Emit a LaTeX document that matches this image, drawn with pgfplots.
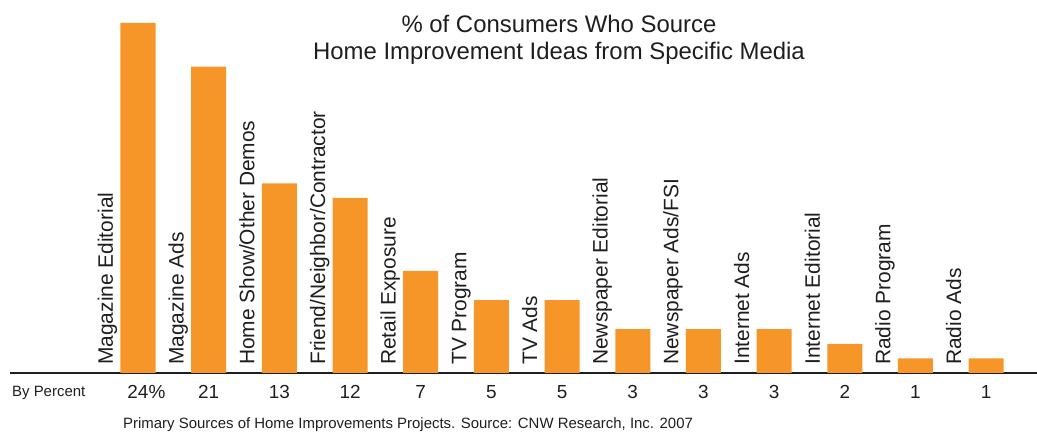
\documentclass[border=0pt]{standalone}
\usepackage{fontspec}
\setmainfont{Liberation Sans}
\usepackage{pgfplots}
\pgfplotsset{compat=1.18}
\definecolor{barorange}{RGB}{247,150,40}
\definecolor{inkgray}{RGB}{30,30,30}
\newcommand\cat[2]{\node[rotate=90, anchor=base west, inner sep=0pt,
  font=\fontsize{21}{21}\selectfont, text=inkgray] at (axis cs:{#1-0.354},0.55) {#2};}
\begin{document}
\begin{tikzpicture}[x=1bp,y=1bp]
\path[use as bounding box] (0,0) rectangle (1037,435);
\begin{axis}[
  at={(10bp,62bp)}, anchor=south west,
  scale only axis, width=1027bp, height=350bp,
  xmin=-1.811, xmax=12.72, ymin=0, ymax=24,
  ybar, bar width=35bp,
  axis y line=none,
  axis x line*=bottom,
  x axis line style={draw=inkgray, line width=1.5bp},
  xtick={0,...,12},
  xticklabels={24\rlap{\%},21,13,12,7,5,5,3,3,3,2,1,1},
  major tick length=0pt,
  /pgf/number format/assume math mode=true,
  xticklabel style={font=\fontsize{19}{19}\selectfont, text=inkgray, anchor=base, yshift=-26bp},
  clip=false,
]
\addplot[fill=barorange, draw=none] coordinates {
  (0,24) (1,21) (2,13) (3,12) (4,7) (5,5) (6,5)
  (7,3) (8,3) (9,3) (10,2) (11,1) (12,1)
};
\cat{0}{Magazine Editorial}
\cat{1}{Magazine Ads}
\cat{2}{Home Show/Other Demos}
\cat{3}{Friend/Neighbor/Contractor}
\cat{4}{Retail Exposure}
\cat{5}{TV Program}
\cat{6}{TV Ads}
\cat{7}{Newspaper Editorial}
\cat{8}{Newspaper Ads/FSI}
\cat{9}{Internet Ads}
\cat{10}{Internet Editorial}
\cat{11}{Radio Program}
\cat{12}{Radio Ads}
\end{axis}
\node[anchor=base, font=\fontsize{24}{24}\selectfont, text=inkgray] at (559,402) {\% of Consumers Who Source};
\node[anchor=base, font=\fontsize{24}{24}\selectfont, text=inkgray] at (559,375) {Home Improvement Ideas from Specific Media};
\node[anchor=base west, inner sep=0pt, font=\fontsize{15}{15}\selectfont, text=inkgray] at (12,38) {By Percent};
\node[anchor=base west, inner sep=0pt, font=\fontsize{15}{15}\selectfont, text=inkgray] at (123,6) {Primary Sources of Home Improvements Projects. Source: CNW Research, Inc. 2007};
\end{tikzpicture}
\end{document}
